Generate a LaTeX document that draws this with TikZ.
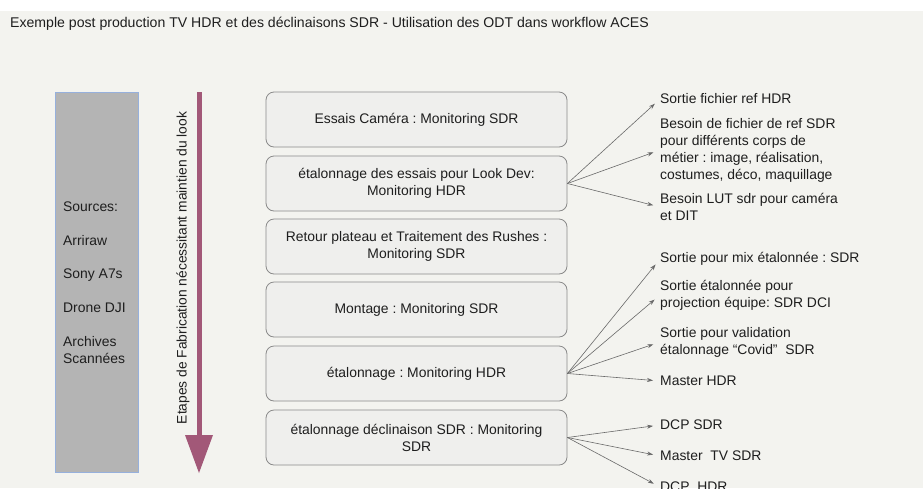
\documentclass[tikz,border=0pt]{standalone}
\usepackage{fontspec}
\setmainfont{Liberation Sans}
\usetikzlibrary{arrows.meta}
\frenchspacing
\definecolor{bgpage}{RGB}{243,243,239}
\definecolor{boxfill}{RGB}{239,239,237}
\definecolor{boxline}{RGB}{138,138,138}
\definecolor{srcfill}{RGB}{180,180,180}
\definecolor{srcline}{RGB}{150,176,220}
\definecolor{mauve}{RGB}{162,88,120}
\definecolor{linkgray}{RGB}{105,105,105}
\definecolor{txt}{RGB}{30,30,30}
\tikzset{
  stage/.style={draw=boxline, fill=boxfill, rounded corners=8pt, line width=0.8pt,
    minimum width=301pt, minimum height=55pt, align=center, inner sep=2pt,
    font=\fontsize{13.9}{17}\selectfont, text=txt},
  outlabel/.style={anchor=west, align=left, inner sep=0pt,
    font=\fontsize{13.9}{17}\selectfont, text=txt},
  srclabel/.style={anchor=west, align=left, inner sep=0pt,
    font=\fontsize{13.9}{17}\selectfont, text=txt},
  link/.style={draw=linkgray, line width=0.6pt,
    -{Stealth[length=6pt,width=4pt]}, shorten >=7pt}
}
\begin{document}
\begin{tikzpicture}[x=1pt,y=-1pt]
\useasboundingbox (0,0) rectangle (923,488);
% page background and top band
\fill[bgpage] (0,0) rectangle (923,488);
\fill[white] (0,0) rectangle (923,11);

% title
\node[anchor=west, inner sep=0pt, font=\fontsize{14.1}{17}\selectfont, text=txt]
  (title) at (10,24) {Exemple post production TV HDR et des déclinaisons SDR - Utilisation des ODT dans workflow ACES};

% sources panel
\node[draw=srcline, fill=srcfill, line width=0.8pt, minimum width=83pt, minimum height=380pt,
  inner sep=0pt] (src) at (96.5,282) {};
\node[srclabel] (s1) at (63,207) {Sources:};
\node[srclabel] (s2) at (63,241) {Arriraw};
\node[srclabel] (s3) at (63,275) {Sony A7s};
\node[srclabel] (s4) at (63,308) {Drone DJI};
\node[srclabel] (s5) at (63,350) {Archives\\Scannées};

% production timeline arrow
\coordinate (tltop) at (199,92);
\coordinate (tlbot) at (199,473);
\fill[mauve] (196.5,92) rectangle (201.5,436);
\fill[mauve] (185,435) -- (213,435) -- (tlbot) -- cycle;
\node[rotate=90, inner sep=0pt, font=\fontsize{13.8}{17}\selectfont, text=txt]
  (tllabel) at (183,268) {Etapes de Fabrication nécessitant maintien du look};

% production stages
\node[stage] (b1) at (416.5,119.5) {Essais Caméra : Monitoring SDR};
\node[stage] (b2) at (416.5,183.5) {étalonnage des essais pour Look Dev:\\Monitoring HDR};
\node[stage] (b3) at (416.5,246.5) {Retour plateau et Traitement des Rushes :\\Monitoring SDR};
\node[stage] (b4) at (416.5,309.5) {Montage : Monitoring SDR};
\node[stage] (b5) at (416.5,373.5) {étalonnage : Monitoring HDR};
\node[stage] (b6) at (416.5,437.5) {étalonnage déclinaison SDR : Monitoring\\SDR};

% outputs of the look-dev grading
\node[outlabel] (o1) at (660,99) {Sortie fichier ref HDR};
\node[outlabel] (o2) at (660,150) {Besoin de fichier de ref SDR\\pour différents corps de\\métier : image, réalisation,\\costumes, déco, maquillage};
\node[outlabel] (o3) at (660,207) {Besoin LUT sdr pour caméra\\et DIT};

% outputs of the main grading
\node[outlabel] (o4) at (660,259) {Sortie pour mix étalonnée : SDR};
\node[outlabel] (o5) at (660,295) {Sortie étalonnée pour\\projection équipe: SDR DCI};
\node[outlabel] (o6) at (660,342) {Sortie pour validation\\étalonnage “Covid”\ \ SDR};
\node[outlabel] (o7) at (660,381) {Master HDR};

% outputs of the SDR grading
\node[outlabel] (o8) at (660,425) {DCP SDR};
\node[outlabel] (o9) at (660,456) {Master\ \ TV SDR};
\node[outlabel] (o10) at (660,487) {DCP\ \ HDR};

\foreach \o in {o1,o2,o3} \draw[link] (b2.east) -- (\o.west);
\foreach \o in {o4,o5,o6,o7} \draw[link] (b5.east) -- (\o.west);
\foreach \o in {o8,o9,o10} \draw[link] (b6.east) -- (\o.west);
\end{tikzpicture}
\end{document}
